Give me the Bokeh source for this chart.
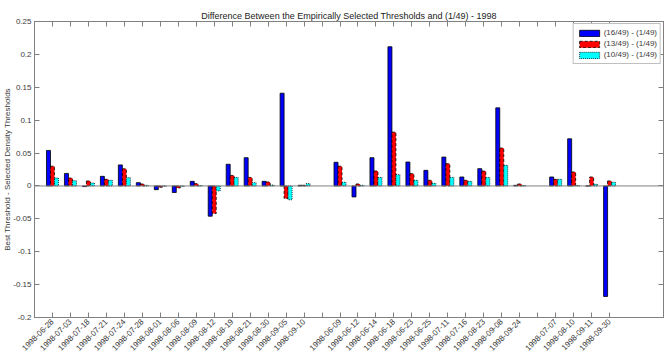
import math
import numpy as np
from bokeh.plotting import figure
from bokeh.models import (ColumnDataSource, Range1d, FixedTicker, LinearAxis,
                          CustomJSTickFormatter, Span, Legend, LegendItem,
                          CustomLabelingPolicy)
from bokeh.transform import dodge
from bokeh.embed import file_html
from bokeh.resources import INLINE

# ---------------- data ----------------
dates = [
    "1998-06-28", "1998-07-03", "1998-07-18", "1998-07-21", "1998-07-24",
    "1998-07-28", "1998-08-01", "1998-08-06", "1998-08-09", "1998-08-12",
    "1998-08-19", "1998-08-21", "1998-08-30", "1998-09-05", "1998-09-10",
    "",
    "1998-06-09", "1998-06-12", "1998-06-14", "1998-06-18", "1998-06-23",
    "1998-06-25", "1998-07-11", "1998-07-16", "1998-08-23", "1998-09-08",
    "1998-09-24",
    "",
    "1998-07-07", "1998-08-10", "1998-09-11", "1998-09-30",
]
s16 = [0.054, 0.019, -0.001, 0.0146, 0.032, 0.005, -0.0056, -0.010, 0.007, -0.046,
       0.033, 0.043, 0.007, 0.141, 0.001,
       None,
       0.036, -0.0167, 0.043, 0.2116, 0.0364, 0.0237, 0.0439, 0.0136, 0.0263, 0.1187,
       0.001,
       None,
       0.0136, 0.0717, 0.0, -0.168]
s13 = [0.030, 0.012, 0.0076, 0.010, 0.026, 0.003, -0.002, -0.003, 0.0035, -0.042,
       0.016, 0.013, 0.006, -0.019, 0.001,
       None,
       0.030, 0.003, 0.0227, 0.0818, 0.0187, 0.0086, 0.0338, 0.0086, 0.0227, 0.0576,
       0.003,
       None,
       0.010, 0.0212, 0.0136, 0.0076]
s10 = [0.012, 0.008, 0.0045, 0.0086, 0.0126, 0.001, -0.0005, -0.0005, 0.0005, -0.0076,
       0.013, 0.005, 0.0015, -0.021, 0.0035,
       None,
       0.0056, 0.001, 0.013, 0.0172, 0.0086, 0.004, 0.013, 0.007, 0.013, 0.0313,
       0.0005,
       None,
       0.010, 0.0005, 0.0025, 0.0056]
series_names = ["(16/49) - (1/49)", "(13/49) - (1/49)", "(10/49) - (1/49)"]
y_ticks = [-0.2, -0.15, -0.1, -0.05, 0.0, 0.05, 0.1, 0.15, 0.2, 0.25]


def arr(v):
    return np.array([np.nan if a is None else a for a in v], dtype=float)


pos = list(range(1, len(dates) + 1))
src = ColumnDataSource(dict(x=pos, a=arr(s16), b=arr(s13), c=arr(s10)))

FONT = "Liberation Sans"
AX = "#808080"
TXT = "#3a3a3a"

p = figure(width=667, height=358, output_backend="svg", toolbar_location=None,
           x_range=Range1d(0, len(dates) + 3), y_range=Range1d(-0.2, 0.25),
           min_border_left=33, min_border_right=4, min_border_top=21,
           min_border_bottom=41, x_axis_type=None, y_axis_type=None)

p.title.text = "Difference Between the Empirically Selected Thresholds and (1/49) - 1998"
p.title.align = "center"
p.title.text_font = FONT
p.title.text_font_size = "9px"
p.title.text_font_style = "normal"
p.title.text_color = "#222222"
p.title.standoff = 2
p.title.offset = 0

p.xgrid.visible = False
p.ygrid.visible = False
p.outline_line_color = AX
p.background_fill_color = "white"
p.border_fill_color = "white"

w = 0.2222
r1 = p.vbar(x=dodge("x", -w, range=p.x_range), top="a", bottom=0, width=w, source=src,
            fill_color="#0000ff", line_color="black", line_width=0.8)
r2 = p.vbar(x="x", top="b", bottom=0, width=w, source=src,
            fill_color="#ff0000", line_color="black", line_width=0.8, line_dash="3 2")
r3 = p.vbar(x=dodge("x", w, range=p.x_range), top="c", bottom=0, width=w, source=src,
            fill_color="#00ffff", line_color="black", line_width=0.8, line_dash="1 1")

p.add_layout(Span(location=0, dimension="width", line_color=AX, line_width=1))

yfmt = CustomJSTickFormatter(code="return (Math.round(tick*100)/100).toString();")
no_labels = CustomLabelingPolicy(code="""
const r = indices.clone();
for (const i of Array.from(indices)) { r.unset(i); }
return r;
""")


def style_axis(ax, labels=True):
    ax.axis_line_color = AX
    ax.major_tick_line_color = AX
    ax.major_tick_in = 5
    ax.major_tick_out = 0
    ax.minor_tick_line_color = None
    ax.major_label_text_font = FONT
    ax.major_label_text_color = TXT
    if labels:
        ax.major_label_text_font_size = "8px"
    else:
        ax.major_label_text_font_size = "0px"
        ax.major_label_policy = no_labels
        ax.major_label_standoff = 0


xb = LinearAxis(ticker=FixedTicker(ticks=pos),
                major_label_overrides={i + 1: d for i, d in enumerate(dates)})
style_axis(xb)
xb.major_label_orientation = math.pi / 4
xb.major_label_standoff = 3
p.add_layout(xb, "below")

xt = LinearAxis(ticker=FixedTicker(ticks=pos))
style_axis(xt, labels=False)
p.add_layout(xt, "above")

yl = LinearAxis(ticker=FixedTicker(ticks=y_ticks), formatter=yfmt,
                axis_label="Best Threshold - Selected Density Thresholds")
style_axis(yl)
yl.major_label_standoff = 3
yl.axis_label_text_font = FONT
yl.axis_label_text_font_size = "8px"
yl.axis_label_text_font_style = "normal"
yl.axis_label_text_color = TXT
yl.axis_label_standoff = -2
p.add_layout(yl, "left")

yr = LinearAxis(ticker=FixedTicker(ticks=y_ticks))
style_axis(yr, labels=False)
p.add_layout(yr, "right")

legend = Legend(items=[LegendItem(label=series_names[0], renderers=[r1]),
                       LegendItem(label=series_names[1], renderers=[r2]),
                       LegendItem(label=series_names[2], renderers=[r3])],
                location="top_right")
legend.margin = 2
legend.padding = 3
legend.spacing = 0
legend.label_text_font = FONT
legend.label_text_font_size = "8px"
legend.label_text_color = TXT
legend.label_height = 11
legend.label_standoff = 2
legend.glyph_width = 25
legend.glyph_height = 8
legend.border_line_color = AX
legend.background_fill_alpha = 1
p.add_layout(legend)

open("out.html", "w").write(file_html(p, INLINE))
